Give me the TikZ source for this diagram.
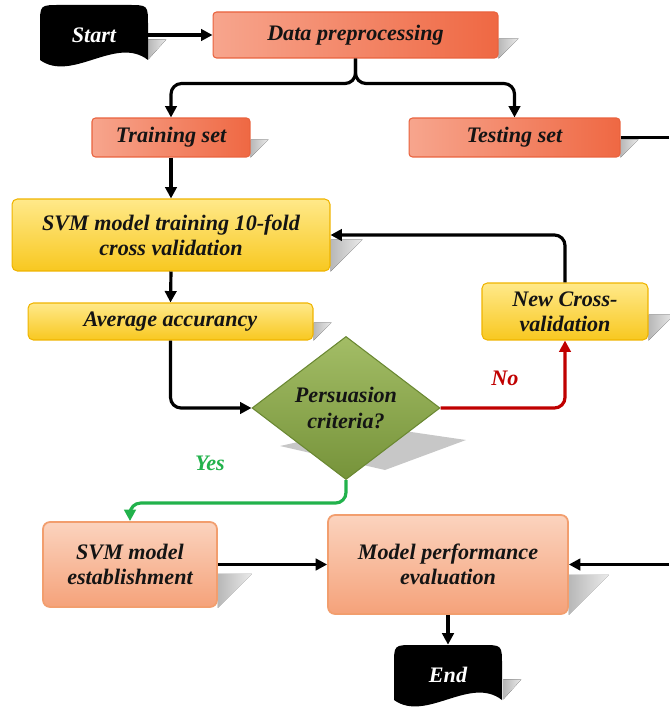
\documentclass[tikz,border=0pt]{standalone}
\usepackage{fontspec}
\setmainfont{Liberation Serif}
\usetikzlibrary{arrows.meta,calc,shapes.geometric,backgrounds}
\definecolor{redline}{HTML}{E9623E}
\definecolor{redleft}{HTML}{F7A58D}
\definecolor{redright}{HTML}{EF6843}
\definecolor{yelline}{HTML}{EFB400}
\definecolor{yeltop}{HTML}{FFE98A}
\definecolor{yelbot}{HTML}{F8C820}
\definecolor{grnline}{HTML}{6A8832}
\definecolor{grntop}{HTML}{A3BD66}
\definecolor{grnbot}{HTML}{76933A}
\definecolor{peachline}{HTML}{F29E6E}
\definecolor{peachtop}{HTML}{FBD3BE}
\definecolor{peachbot}{HTML}{F5A27A}
\definecolor{textdark}{HTML}{141414}
\definecolor{nored}{HTML}{C00000}
\definecolor{yesgreen}{HTML}{22B24C}
\def\castshadow(#1)(#2){\fill[left color=black!28, right color=black!8] ($(#1.south east)+(0,-#2)$) -- ++(#2,0) -- (#1.south east) -- cycle;}
\def\docshape(#1){\begin{scope}[shift={(#1.center)}]
  \fill[black] (54,25) -- (54,-10) .. controls (54,-30) .. (34,-30) -- (-34,-30) .. controls (-54,-30) .. (-54,-10) -- (-54,25) .. controls (-22,48) and (22,0) .. (54,25) -- cycle;
\end{scope}}

\begin{document}
\begin{tikzpicture}[x=0.02cm, y=-0.02cm,
    every node/.style={font=\bfseries\itshape\fontsize{12.6}{14.4}\selectfont, text=textdark, align=center},
    redbox/.style={draw=redline, line width=0.6pt, rounded corners=2pt, left color=redleft, right color=redright},
    yelbox/.style={draw=yelline, line width=0.6pt, rounded corners=3pt, top color=yeltop, bottom color=yelbot},
    peachbox/.style={draw=peachline, line width=1pt, rounded corners=4pt, top color=peachtop, bottom color=peachbot},
    decision/.style={diamond, draw=grnline, line width=0.6pt, top color=grntop, bottom color=grnbot, inner sep=0pt, minimum width=3.76cm, minimum height=2.34cm},
    docnode/.style={text=white, minimum width=2.16cm, minimum height=1.2cm, inner sep=0pt},
    flow/.style={line width=1.8pt, rounded corners=6pt, -{Triangle[length=6.5pt,width=6.5pt]}},
    plainflow/.style={line width=1.8pt}]
\useasboundingbox (0,0) rectangle (669,709);

% boxes
\node[docnode] (start) at (94,35) {Start};
\node[redbox, minimum width=5.7cm, minimum height=0.92cm] (prep) at (355.5,35) {Data preprocessing};
\node[redbox, minimum width=3.16cm, minimum height=0.78cm] (train) at (171,137.5) {Training set};
\node[redbox, minimum width=4.22cm, minimum height=0.78cm] (test) at (514.5,137.5) {Testing set};
\node[yelbox, minimum width=6.36cm, minimum height=1.44cm] (svm) at (171,235) {SVM model training 10-fold\\cross validation};
\node[yelbox, minimum width=5.7cm, minimum height=0.74cm] (avg) at (170.5,321.5) {Average accurancy};
\node[yelbox, minimum width=3.32cm, minimum height=1.14cm] (newcv) at (565,311.5) {New Cross-\\validation};
\node[decision] (crit) at (346,408) {Persuasion\\criteria?};
\node[peachbox, minimum width=3.48cm, minimum height=1.7cm] (est) at (130,564.5) {SVM model\\establishment};
\node[peachbox, minimum width=4.8cm, minimum height=1.98cm] (perf) at (448,564.5) {Model performance\\evaluation};
\node[docnode, minimum width=2.2cm] (end) at (448,675) {End};

\node[text=nored] (no) at (505,378) {No};
\node[text=yesgreen] (yes) at (210,463) {Yes};

\coordinate (testout) at (669,137.5);
\coordinate (perfin) at (669,564.5);

% shadows and terminals
\begin{scope}[on background layer]
  \castshadow(prep)(20)
  \castshadow(train)(18)
  \castshadow(test)(18)
  \castshadow(svm)(32)
  \castshadow(avg)(18)
  \castshadow(newcv)(26)
  \castshadow(est)(34)
  \castshadow(perf)(40)
  \fill[left color=black!28, right color=black!8] ($(start.south east)+(0,-26)$) -- ++(18,0) -- ($(start.south east)+(0,-6)$) -- cycle;
  \fill[left color=black!28, right color=black!8] ($(end.south east)+(0,-26)$) -- ++(18,0) -- ($(end.south east)+(0,-6)$) -- cycle;
  \fill[black!22] (280,446) -- (370,426) -- (466,440) -- (385,470) -- cycle;
  \docshape(start)
  \docshape(end)
\end{scope}

% connectors
\draw[flow] (start.east) -- (prep.west);
\draw[flow] (prep.south) -- ++(0,25) -| (train.north);
\draw[flow] (prep.south) -- ++(0,25) -| (test.north);
\draw[flow] (train.south) -- (svm.north);
\draw[flow] (svm.south) -- (avg.north);
\draw[flow] (avg.south) |- (crit.west);
\draw[flow, draw=nored] (crit.east) -| (newcv.south);
\draw[flow] (newcv.north) |- (svm.east);
\draw[flow, draw=yesgreen] (crit.south) -- ++(0,23) -| (est.north);
\draw[flow] (est.east) -- (perf.west);
\draw[flow] (perfin) -- (perf.east);
\draw[plainflow] (test.east) -- (testout);
\draw[flow] (perf.south) -- (end.north);
\end{tikzpicture}
\end{document}
